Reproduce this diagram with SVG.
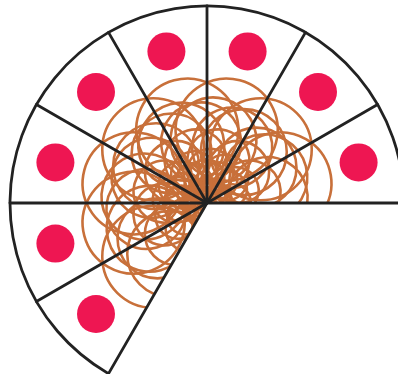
<svg xmlns="http://www.w3.org/2000/svg" xmlns:xlink="http://www.w3.org/1999/xlink" width="398" height="374" viewBox="0 0 398 374">
<style>
.ring{fill:none;stroke:#C8703A;stroke-width:2.6}
.line{fill:none;stroke:#222;stroke-width:2.8;stroke-linecap:round}
.dot{fill:#EE1652}
</style>
<defs>
<clipPath id="pie"><path d="M207 203 L404 203 A197 197 0 1 0 108.5 373.6 Z"/></clipPath>
<g id="set">
<circle class="ring" cx="76" cy="0" r="51"/>
<circle class="ring" cx="62" cy="-10" r="43"/>
<circle class="ring" cx="60" cy="10" r="40"/>
<circle class="ring" cx="44" cy="0" r="31"/>
<circle class="ring" cx="31" cy="-5" r="23"/>
<circle class="ring" cx="25" cy="6" r="18"/>
<circle class="ring" cx="14" cy="0" r="10"/>
</g>
</defs>
<g id="rings" clip-path="url(#pie)">
<g transform="translate(207,203)">
<use xlink:href="#set" transform="rotate(-15)"/>
<use xlink:href="#set" transform="rotate(-45)"/>
<use xlink:href="#set" transform="rotate(-75)"/>
<use xlink:href="#set" transform="rotate(-105)"/>
<use xlink:href="#set" transform="rotate(-135)"/>
<use xlink:href="#set" transform="rotate(-165)"/>
<use xlink:href="#set" transform="rotate(-195)"/>
<use xlink:href="#set" transform="rotate(-225)"/>
</g>
</g>
<g id="connectors">
<path class="line" d="M404 203 A197 197 0 1 0 108.5 373.6"/>
<line class="line" x1="207" y1="203" x2="404" y2="203"/>
<line class="line" x1="207" y1="203" x2="377.6" y2="104.5"/>
<line class="line" x1="207" y1="203" x2="305.5" y2="32.4"/>
<line class="line" x1="207" y1="203" x2="207" y2="6"/>
<line class="line" x1="207" y1="203" x2="108.5" y2="32.4"/>
<line class="line" x1="207" y1="203" x2="36.4" y2="104.5"/>
<line class="line" x1="207" y1="203" x2="10" y2="203"/>
<line class="line" x1="207" y1="203" x2="36.4" y2="301.5"/>
<line class="line" x1="207" y1="203" x2="108.5" y2="373.6"/>
</g>
<g id="dot15"><circle class="dot" cx="358.6" cy="162.4" r="19"/></g>
<g id="dot45"><circle class="dot" cx="318" cy="92" r="19"/></g>
<g id="dot75"><circle class="dot" cx="247.6" cy="51.4" r="19"/></g>
<g id="dot105"><circle class="dot" cx="166.4" cy="51.4" r="19"/></g>
<g id="dot135"><circle class="dot" cx="96" cy="92" r="19"/></g>
<g id="dot165"><circle class="dot" cx="55.4" cy="162.4" r="19"/></g>
<g id="dot195"><circle class="dot" cx="55.4" cy="243.6" r="19"/></g>
<g id="dot225"><circle class="dot" cx="96" cy="314" r="19"/></g>
</svg>
